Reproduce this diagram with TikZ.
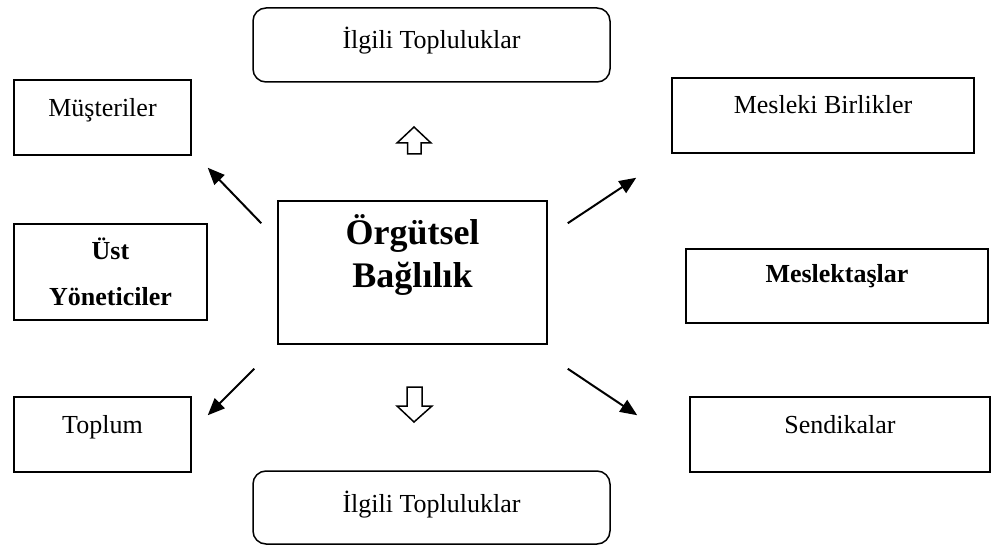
\documentclass[tikz,border=0pt]{standalone}
\usepackage{fontspec}
\setmainfont{Liberation Serif}
\usetikzlibrary{arrows.meta,calc}

\tikzset{
  kutu/.style={draw, line width=0.75pt, inner sep=0pt, font=\fontsize{13}{16}\selectfont},
  yuvarlak/.style={kutu, rounded corners=6.5pt, minimum width=178.5pt, text height=20.5pt},
  ok/.style={-{Triangle[length=8.5pt,width=7pt]}, line width=1pt},
  blok/.style={line width=0.75pt, line join=miter}
}

\begin{document}
\begin{tikzpicture}[x=0.5pt, y=-0.5pt]
	\useasboundingbox (0,0) rectangle (991,545);
	% kutular
	\node[yuvarlak, text depth=16.5pt] (ilgiust) at (431.5,45) {İlgili Topluluklar};
	\node[kutu, minimum width=88.5pt, text height=18.5pt, text depth=19pt] (musteri) at (102.5,117.5) {Müşteriler};
	\node[kutu, minimum width=151pt, text height=18pt, text depth=19.5pt] (mesleki) at (823,115.5) {Mesleki Birlikler};
	\node[kutu, minimum width=96.5pt, minimum height=48pt, align=center, font=\fontsize{13}{23}\selectfont\bfseries] (ust) at (110.5,272) {Üst\\Yöneticiler};
	\node[kutu, minimum width=134.5pt, align=center, text height=43.5pt, text depth=28pt, font=\fontsize{18}{21.5}\selectfont\bfseries] (orgut) at (412.5,272.5) {Örgütsel\\Bağlılık};
	\node[kutu, minimum width=151pt, text height=17pt, text depth=20pt, font=\fontsize{13}{16}\selectfont\bfseries] (meslektas) at (837,286) {Meslektaşlar};
	\node[kutu, minimum width=88.5pt, text height=18pt, text depth=19.5pt] (toplum) at (102.5,434.5) {Toplum};
	\node[kutu, minimum width=150pt, text height=18pt, text depth=19.5pt] (sendika) at (840,434.5) {Sendikalar};
	\node[yuvarlak, text depth=16pt] (ilgialt) at (431.5,507.5) {İlgili Topluluklar};
	% blok oklar
	\draw[blok] (407.5,154) -- (407.5,143) -- (397,143) -- (414,127) -- (431,143) -- (421,143) -- (421,154) -- cycle;
	\draw[blok] (407,387) -- (422,387) -- (422,406) -- (432,406) -- (414,422) -- (397,406) -- (407,406) -- cycle;
	% oklar
	\coordinate (o1) at ($(orgut.north west)+(-16,23)$);
	\coordinate (o2) at ($(orgut.north east)+(20,23)$);
	\coordinate (o3) at ($(orgut.south west)+(-23,24)$);
	\coordinate (o4) at ($(orgut.south east)+(20,24)$);
	\coordinate (u1) at ($(musteri.south east)+(16,12)$);
	\coordinate (u2) at ($(mesleki.south west)+(-35,24)$);
	\coordinate (u3) at ($(toplum.north east)+(16,19)$);
	\coordinate (u4) at ($(sendika.north west)+(-52,19)$);
	\draw[ok] (o1) -- (u1);
	\draw[ok] (o2) -- (u2);
	\draw[ok] (o3) -- (u3);
	\draw[ok] (o4) -- (u4);
\end{tikzpicture}
\end{document}
